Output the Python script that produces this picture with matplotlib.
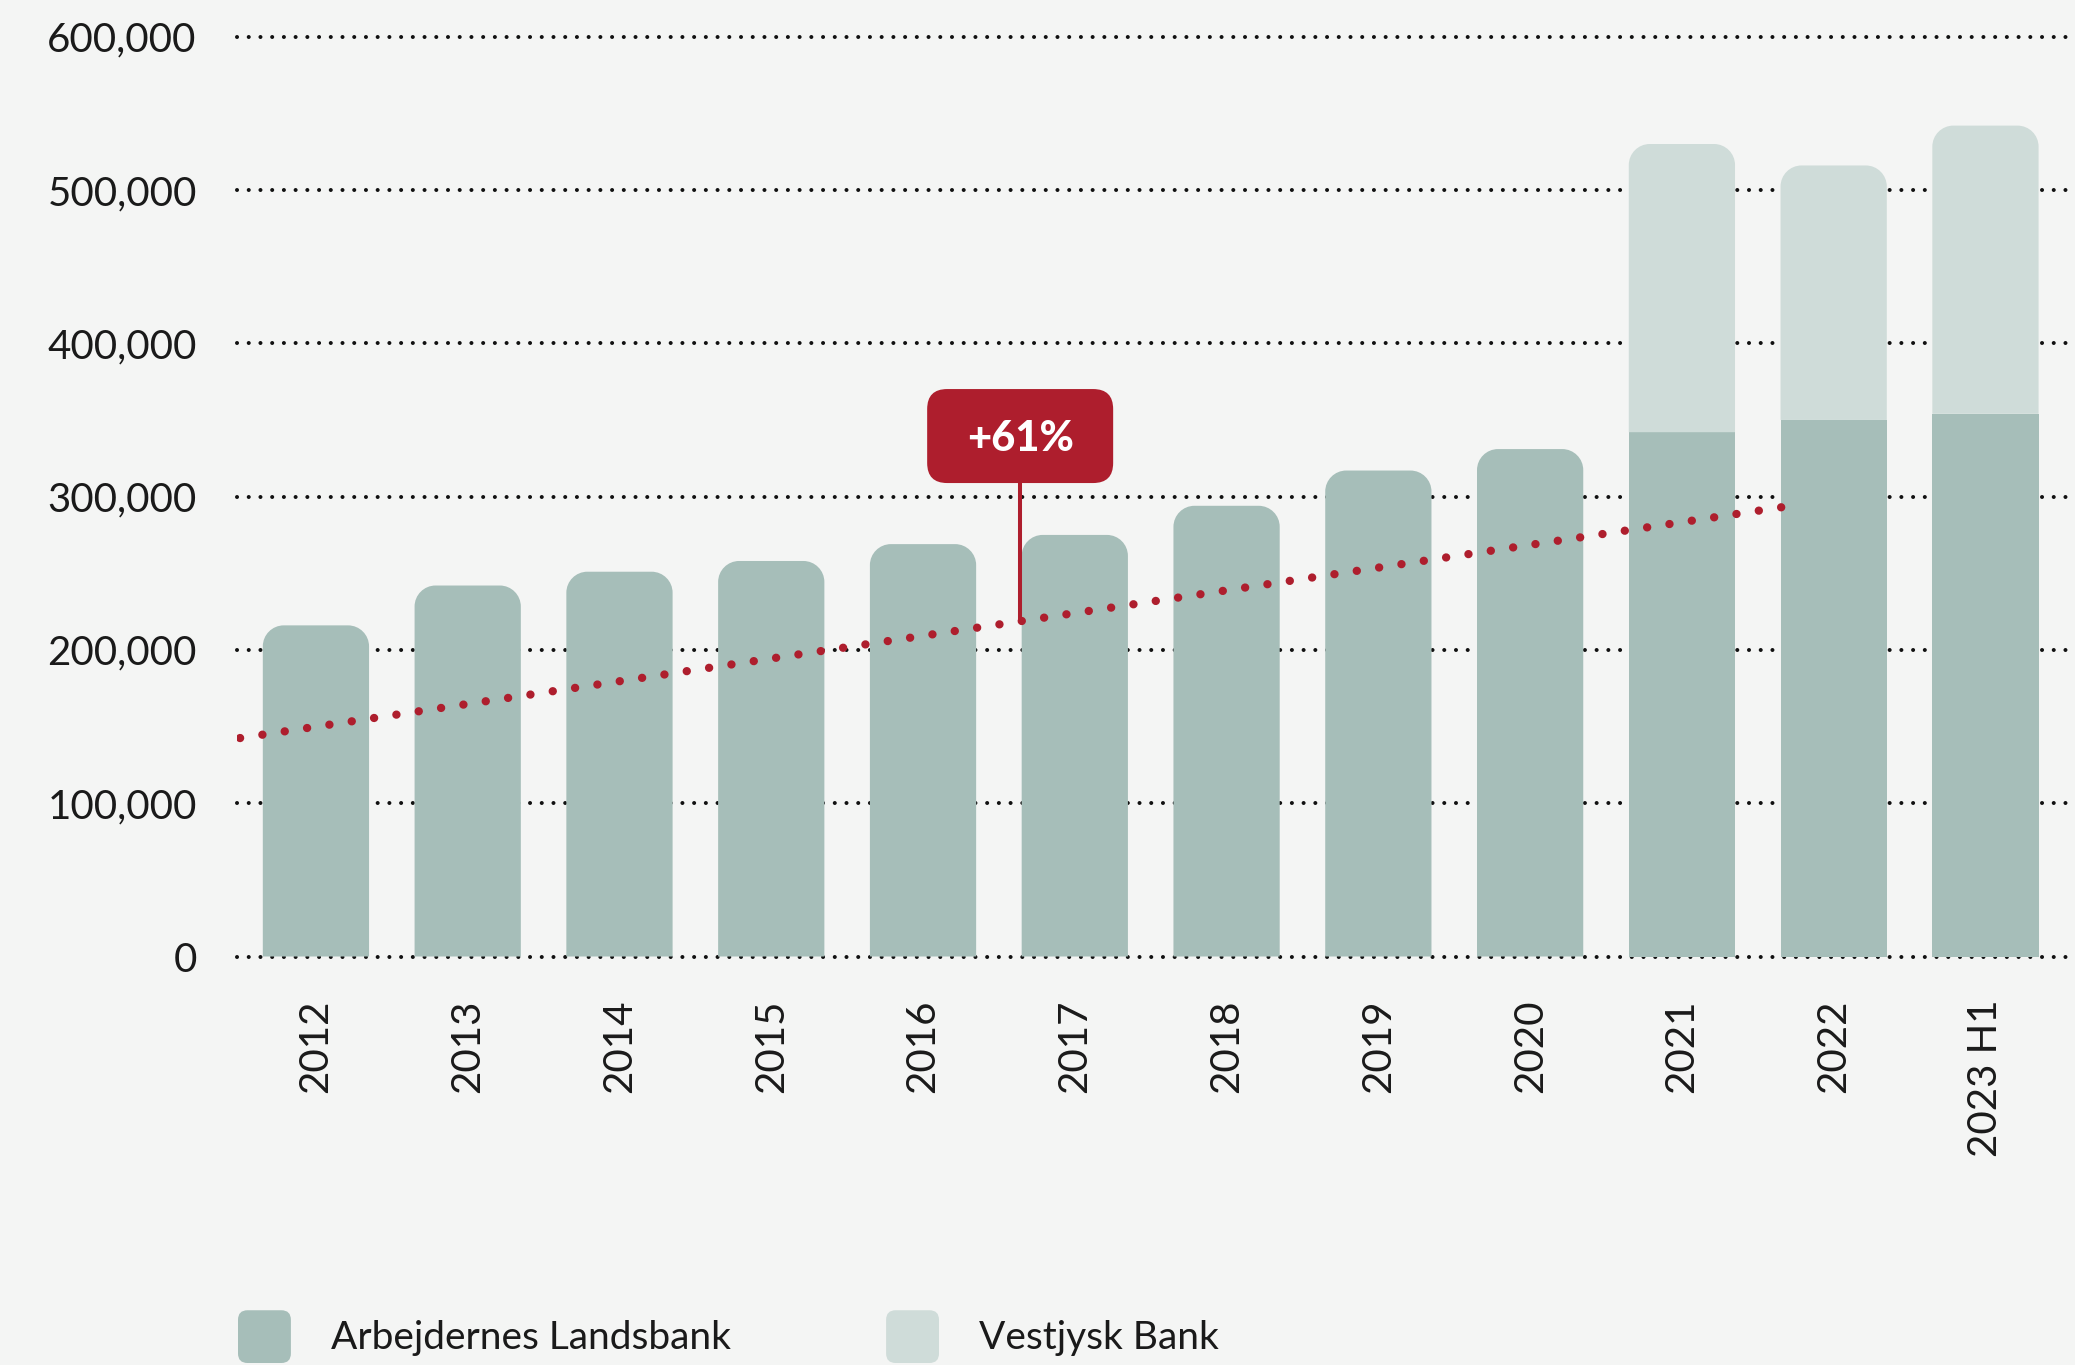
import numpy as np
import matplotlib
matplotlib.use('Agg')
import matplotlib.pyplot as plt
from matplotlib.path import Path
from matplotlib.patches import PathPatch, FancyBboxPatch, Patch
from matplotlib.legend_handler import HandlerPatch
from matplotlib.transforms import ScaledTranslation

# ---- data ----
years = ['2012', '2013', '2014', '2015', '2016', '2017', '2018', '2019',
         '2020', '2021', '2022', '2023 H1']
arbejdernes = [216000, 242000, 251000, 258000, 269000, 275000, 294000,
               317000, 331000, 342000, 350000, 354000]
vestjysk = [0, 0, 0, 0, 0, 0, 0, 0, 0, 188000, 166000, 188000]
series_names = ['Arbejdernes Landsbank', 'Vestjysk Bank']
y_ticks = [0, 100000, 200000, 300000, 400000, 500000, 600000]

# trend line (start / end) and the growth callout
trend_x = [-0.5, 9.72]
trend_y = [142500, 294000]
callout_text = '+61%'
callout_x = 4.64
callout_y = 339500

# ---- styling ----
BG = '#F4F5F4'
DARK = '#A6BEB9'
LIGHT = '#CFDCD9'
RED = '#AE1E2D'
TXT = '#1A1A1A'
plt.rcParams['font.family'] = ['Lato', 'DejaVu Sans']

fig = plt.figure(figsize=(20.75, 13.65), dpi=100, facecolor=BG)
ax = fig.add_axes([237 / 2075, 1 - 956.5 / 1365, 1 - 237 / 2075, (956.5 - 36.7) / 1365])
ax.set_facecolor(BG)
ax.set_xlim(-0.52, 11.59)
ax.set_ylim(0, 600000)

x = np.arange(len(years))
w = 0.70
dark_bars = ax.bar(x, arbejdernes, width=w, color=DARK, zorder=2)
light_bars = ax.bar(x, vestjysk, width=w, bottom=arbejdernes, color=LIGHT, zorder=2)

# rounded top corners (radius in pixels, converted through the data transform)
p0, p1 = ax.transData.transform([(0, 0), (1, 100000)])
r_px = 21
rx = r_px / (p1[0] - p0[0])
ry = r_px * 100000 / (p1[1] - p0[1])
k = 0.5523


def round_top(rect):
    x0 = rect.get_x()
    x1 = x0 + rect.get_width()
    b = rect.get_y()
    t = b + rect.get_height()
    verts = [(x0, b), (x0, t - ry),
             (x0, t - ry + k * ry), (x0 + rx - k * rx, t), (x0 + rx, t),
             (x1 - rx, t),
             (x1 - rx + k * rx, t), (x1, t - ry + k * ry), (x1, t - ry),
             (x1, b), (x0, b)]
    codes = [Path.MOVETO, Path.LINETO,
             Path.CURVE4, Path.CURVE4, Path.CURVE4,
             Path.LINETO,
             Path.CURVE4, Path.CURVE4, Path.CURVE4,
             Path.LINETO, Path.CLOSEPOLY]
    ax.add_patch(PathPatch(Path(verts, codes), facecolor=rect.get_facecolor(),
                           edgecolor='none', zorder=2))
    rect.set_visible(False)


for i, rect in enumerate(dark_bars):
    if vestjysk[i] == 0:
        round_top(rect)
for i, rect in enumerate(light_bars):
    if vestjysk[i] > 0:
        round_top(rect)
    else:
        rect.set_visible(False)

# dotted trend line
ax.plot(trend_x, trend_y, color=RED, linewidth=6, linestyle=(0, (0.01, 2.7)),
        dash_capstyle='round', zorder=4)

# callout: connector, rounded box and label
trend_at = np.interp(callout_x, trend_x, trend_y)
trans = fig.dpi_scale_trans + ScaledTranslation(callout_x, callout_y, ax.transData)
box = FancyBboxPatch((-0.93, -0.47), 1.86, 0.94, boxstyle='round,pad=0,rounding_size=0.2',
                     facecolor=RED, edgecolor='none', transform=trans, zorder=6, clip_on=False)
ax.add_patch(box)
box_bottom = ax.transData.inverted().transform(trans.transform((0, -0.47)))[1]
ax.plot([callout_x, callout_x], [trend_at, box_bottom], color=RED, linewidth=2.9,
        solid_capstyle='butt', zorder=5)
ax.text(0, -0.15, callout_text, transform=trans, ha='center', va='baseline',
        color='white', fontsize=30, fontweight='black', zorder=7)

# axes, ticks, grid
ax.set_xticks(x)
ax.set_xticklabels(years, rotation=90)
ax.set_yticks(y_ticks)
ax.set_yticklabels([f'{v:,}' for v in y_ticks])
ax.tick_params(axis='x', length=0, pad=31, labelsize=29, labelcolor=TXT)
ax.tick_params(axis='y', length=0, pad=29, labelsize=29, labelcolor=TXT)
for s in ax.spines.values():
    s.set_visible(False)
ax.set_axisbelow(True)
ax.yaxis.grid(True, color='#111111', linewidth=2.9, linestyle=(0, (0.01, 2.9)),
              dash_capstyle='round')
for gl in ax.get_ygridlines():
    gl.set_clip_on(False)


# legend with rounded swatches
class RoundHandle(HandlerPatch):
    def create_artists(self, legend, orig_handle, xdescent, ydescent, width, height,
                       fontsize, trans):
        p = FancyBboxPatch((-xdescent, -ydescent), width, height,
                           boxstyle=f'round,pad=0,rounding_size={0.18 * height}',
                           facecolor=orig_handle.get_facecolor(), edgecolor='none',
                           transform=trans)
        return [p]


handles = [Patch(facecolor=DARK), Patch(facecolor=LIGHT)]
fig.legend(handles, series_names, loc='lower left', bbox_to_anchor=(238 / 2075, 2 / 1365),
           ncol=2, frameon=False, fontsize=28, labelcolor=TXT,
           handlelength=1.36, handleheight=1.71, handletextpad=1.02,
           columnspacing=4.0, borderpad=0, borderaxespad=0,
           handler_map={Patch: RoundHandle()})

fig.savefig('out.png', dpi=100, facecolor=BG)
